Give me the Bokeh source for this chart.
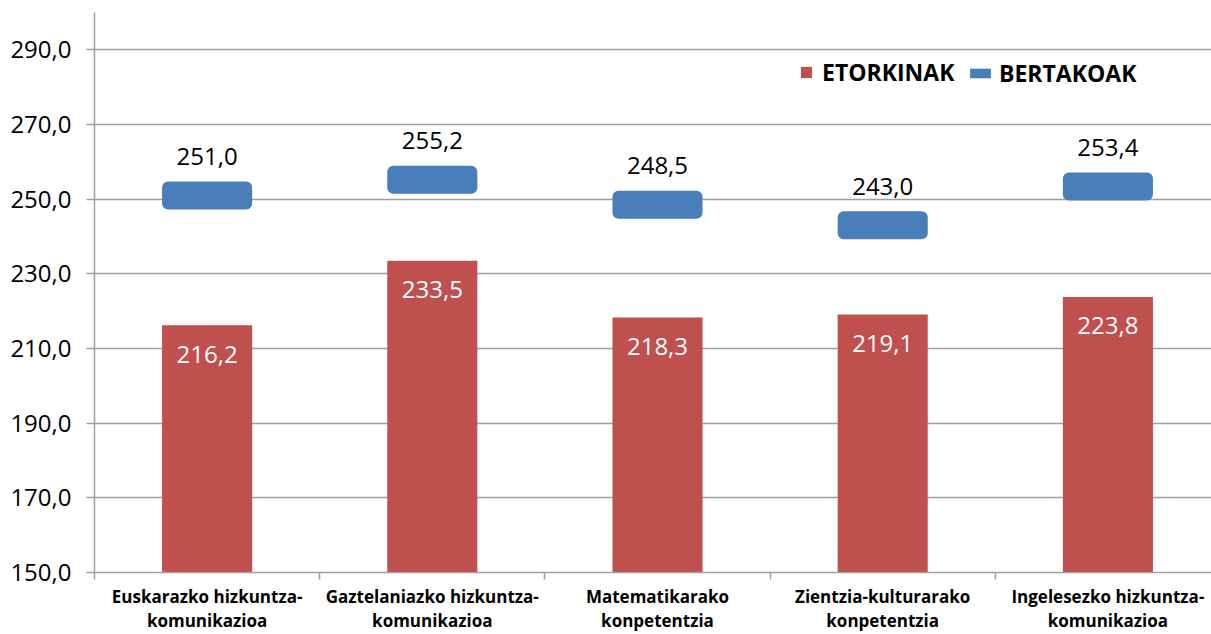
from bokeh.plotting import figure
from bokeh.models import FixedTicker, Range1d, Legend, LegendItem, ColumnDataSource
from bokeh.core.properties import value
from bokeh.embed import file_html
from bokeh.resources import INLINE

categories = [
    "Euskarazko hizkuntza-\nkomunikazioa",
    "Gaztelaniazko hizkuntza-\nkomunikazioa",
    "Matematikarako\nkonpetentzia",
    "Zientzia-kulturarako\nkonpetentzia",
    "Ingelesezko hizkuntza-\nkomunikazioa",
]
etorkinak = [216.2, 233.5, 218.3, 219.1, 223.8]
bertakoak = [251.0, 255.2, 248.5, 243.0, 253.4]
y_ticks = [150, 170, 190, 210, 230, 250, 270, 290]

RED = "#c0504d"
BLUE = "#4a7ebb"
FONT = "Open Sans"
MARK_H = 7.5  # height of the blue marker in value units

def fmt(v):
    return f"{v:.1f}".replace(".", ",")

xs = [i + 0.5 for i in range(len(categories))]
src = ColumnDataSource(dict(
    x=xs,
    et=etorkinak,
    be=bertakoak,
    be_top=[v + MARK_H / 2 for v in bertakoak],
    be_bot=[v - MARK_H / 2 for v in bertakoak],
    et_lbl=[fmt(v) for v in etorkinak],
    be_lbl=[fmt(v) for v in bertakoak],
))

p = figure(width=1211, height=634, output_backend="svg", toolbar_location=None,
           x_range=Range1d(0, 4.96), y_range=Range1d(150, 300),
           min_border_left=94, min_border_right=0, min_border_top=12, min_border_bottom=61)
p.outline_line_color = None
p.background_fill_color = "white"
p.border_fill_color = "white"

# grid
p.xgrid.grid_line_color = None
p.ygrid.grid_line_color = "#a0a0a0"
p.ygrid.grid_line_width = 1.5

# y axis
p.yaxis.ticker = FixedTicker(ticks=y_ticks)
p.yaxis.major_label_overrides = {t: fmt(t) for t in y_ticks}
p.yaxis.major_label_text_font = FONT
p.yaxis.major_label_text_font_size = "24px"
p.yaxis.major_label_text_color = "black"
p.yaxis.major_tick_in = 0
p.yaxis.major_tick_out = 8
p.yaxis.minor_tick_out = 0
p.yaxis.minor_tick_in = 0
p.yaxis.major_label_standoff = 15
p.yaxis.axis_line_color = "#a0a0a0"
p.yaxis.axis_line_width = 1.5
p.yaxis.major_tick_line_color = "#a0a0a0"
p.yaxis.major_tick_line_width = 1.5

# x axis
p.xaxis.ticker = FixedTicker(ticks=xs, minor_ticks=list(range(len(categories) + 1)))
p.xaxis.major_label_overrides = {x: c for x, c in zip(xs, categories)}
p.xaxis.major_label_text_font = FONT
p.xaxis.major_label_text_font_size = "17px"
p.xaxis.major_label_text_font_style = "bold"
p.xaxis.major_label_text_color = "black"
p.xaxis.major_label_text_line_height = 1.05
p.xaxis.major_tick_in = 0
p.xaxis.major_tick_out = 0
p.xaxis.minor_tick_in = 0
p.xaxis.minor_tick_out = 7
p.xaxis.minor_tick_line_color = "#a0a0a0"
p.xaxis.minor_tick_line_width = 1.5
p.xaxis.major_label_standoff = 5
p.xaxis.axis_line_color = "#a0a0a0"
p.xaxis.axis_line_width = 1.5

# bars
r_et = p.vbar(x="x", top="et", bottom=150, width=0.4, source=src,
              fill_color=RED, line_color=None)
r_be = p.vbar(x="x", top="be_top", bottom="be_bot", width=0.4, source=src,
              fill_color=BLUE, line_color=None, border_radius=6)

# labels
p.text(x="x", y="be", text="be_lbl", source=src, y_offset=-39,
       text_align="center", text_baseline="middle",
       text_font=value(FONT), text_font_size="24px", text_color="black")
p.text(x="x", y="et", text="et_lbl", source=src, y_offset=29,
       text_align="center", text_baseline="middle",
       text_font=value(FONT), text_font_size="24px", text_color="white")

def make_legend(item, loc, gw, gh, standoff):
    lg = Legend(items=[item], location=loc, orientation="horizontal",
                glyph_width=gw, glyph_height=gh, label_standoff=standoff,
                padding=0, margin=0, spacing=0,
                border_line_alpha=0, background_fill_alpha=0,
                label_text_font=FONT, label_text_font_size="23px",
                label_text_font_style="bold", label_text_color="black")
    p.add_layout(lg, "center")

make_legend(LegendItem(label="ETORKINAK", renderers=[r_et]), (705, 484), 14, 14, 9)
make_legend(LegendItem(label="BERTAKOAK", renderers=[r_be]), (873, 483), 26, 12, 6)

open("out.html", "w").write(file_html(p, INLINE))
